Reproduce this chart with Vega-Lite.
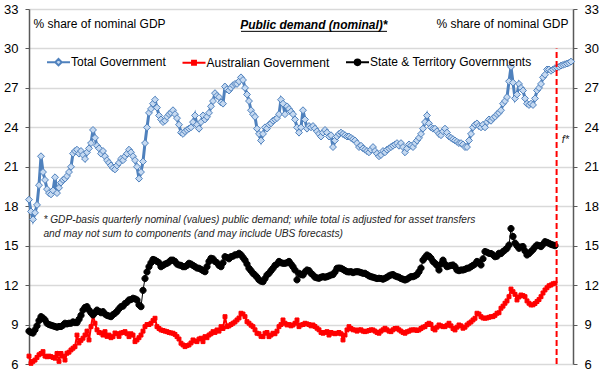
{
"$schema": "https://vega.github.io/schema/vega-lite/v6.json",
"width": 544, "height": 355,
"autosize": {"type": "none"},
"padding": {"left": 29, "top": 9, "right": 29, "bottom": 27},
"background": "white",
"config": {"view": {"stroke": null}, "font": "Liberation Sans"},
"data": {"values": [
{"d":1960,"t":18.5,"a":6.6,"s":8.5},{"d":1960.25,"t":17.6,"a":6.05,"s":8.4},{"d":1960.5,"t":17.0,"a":6.2,"s":8.35},{"d":1960.75,"t":17.5,"a":6.3,"s":8.6},
{"d":1961,"t":18.1,"a":6.5,"s":8.9},{"d":1961.25,"t":19.6,"a":6.7,"s":9.3},{"d":1961.5,"t":21.8,"a":6.8,"s":9.6},{"d":1961.75,"t":20.6,"a":6.94,"s":9.5},
{"d":1962,"t":20.0,"a":6.6,"s":9.35},{"d":1962.25,"t":19.3,"a":6.55,"s":9.1},{"d":1962.5,"t":19.0,"a":6.6,"s":9.0},{"d":1962.75,"t":18.9,"a":6.56,"s":8.95},
{"d":1963,"t":19.2,"a":6.5,"s":8.9},{"d":1963.25,"t":20.2,"a":6.44,"s":8.85},{"d":1963.5,"t":19.0,"a":6.8,"s":8.8},{"d":1963.75,"t":19.4,"a":6.2,"s":8.85},
{"d":1964,"t":19.8,"a":6.8,"s":8.85},{"d":1964.25,"t":20.0,"a":6.6,"s":8.95},{"d":1964.5,"t":20.1,"a":6.3,"s":9.1},{"d":1964.75,"t":20.3,"a":6.82,"s":9.05},
{"d":1965,"t":20.6,"a":6.9,"s":9.1},{"d":1965.25,"t":21.0,"a":7.07,"s":9.1},{"d":1965.5,"t":22.0,"a":7.2,"s":9.2},{"d":1965.75,"t":22.2,"a":7.32,"s":9.15},
{"d":1966,"t":22.3,"a":8.2,"s":9.15},{"d":1966.25,"t":22.0,"a":7.6,"s":9.4},{"d":1966.5,"t":22.2,"a":7.8,"s":9.7},{"d":1966.75,"t":21.9,"a":7.96,"s":10.1},
{"d":1967,"t":21.6,"a":8.2,"s":10.3},{"d":1967.25,"t":22.1,"a":8.5,"s":10.36},{"d":1967.5,"t":22.4,"a":7.83,"s":10.1},{"d":1967.75,"t":22.8,"a":8.84,"s":9.9},
{"d":1968,"t":23.8,"a":9.7,"s":9.73},{"d":1968.25,"t":23.2,"a":9.1,"s":9.9},{"d":1968.5,"t":22.6,"a":8.6,"s":10.1},{"d":1968.75,"t":22.4,"a":8.4,"s":10.0},
{"d":1969,"t":22.0,"a":8.36,"s":9.9},{"d":1969.25,"t":22.2,"a":8.2,"s":9.98},{"d":1969.5,"t":21.8,"a":8.46,"s":9.8},{"d":1969.75,"t":21.5,"a":8.1,"s":9.7},
{"d":1970,"t":21.3,"a":8.2,"s":9.65},{"d":1970.25,"t":21.1,"a":8.0,"s":9.6},{"d":1970.5,"t":20.9,"a":8.08,"s":9.75},{"d":1970.75,"t":20.8,"a":8.36,"s":9.86},
{"d":1971,"t":21.1,"a":8.3,"s":10.0},{"d":1971.25,"t":21.3,"a":8.1,"s":10.2},{"d":1971.5,"t":21.6,"a":8.36,"s":10.36},{"d":1971.75,"t":21.5,"a":8.4,"s":10.4},
{"d":1972,"t":21.8,"a":8.46,"s":10.6},{"d":1972.25,"t":22.0,"a":8.3,"s":10.7},{"d":1972.5,"t":22.3,"a":8.08,"s":10.87},{"d":1972.75,"t":22.1,"a":8.3,"s":10.9},
{"d":1973,"t":21.8,"a":8.2,"s":11.0},{"d":1973.25,"t":21.5,"a":7.7,"s":10.95},{"d":1973.5,"t":21.0,"a":7.83,"s":10.87},{"d":1973.75,"t":20.1,"a":8.0,"s":10.5},
{"d":1974,"t":20.6,"a":8.2,"s":10.36},{"d":1974.25,"t":21.4,"a":8.5,"s":11.6},{"d":1974.5,"t":22.8,"a":8.84,"s":12.5},{"d":1974.75,"t":24.0,"a":9.0,"s":13.0},
{"d":1975,"t":25.1,"a":9.0,"s":13.4},{"d":1975.25,"t":25.4,"a":9.1,"s":13.7},{"d":1975.5,"t":25.8,"a":9.3,"s":13.95},{"d":1975.75,"t":26.1,"a":9.48,"s":13.9},
{"d":1976,"t":25.5,"a":8.84,"s":13.8},{"d":1976.25,"t":24.9,"a":8.7,"s":13.7},{"d":1976.5,"t":24.6,"a":8.59,"s":13.4},{"d":1976.75,"t":24.4,"a":8.55,"s":13.5},
{"d":1977,"t":24.5,"a":8.5,"s":13.6},{"d":1977.25,"t":24.8,"a":8.46,"s":13.66},{"d":1977.5,"t":25.0,"a":8.4,"s":13.75},{"d":1977.75,"t":25.1,"a":8.36,"s":13.9},
{"d":1978,"t":25.3,"a":8.34,"s":13.9},{"d":1978.25,"t":25.0,"a":8.25,"s":13.8},{"d":1978.5,"t":24.7,"a":8.08,"s":13.6},{"d":1978.75,"t":24.2,"a":7.9,"s":13.53},
{"d":1979,"t":23.6,"a":7.58,"s":13.5},{"d":1979.25,"t":23.5,"a":7.45,"s":13.4},{"d":1979.5,"t":23.7,"a":7.32,"s":13.4},{"d":1979.75,"t":23.8,"a":7.4,"s":13.5},
{"d":1980,"t":23.9,"a":7.45,"s":13.66},{"d":1980.25,"t":24.0,"a":7.6,"s":13.6},{"d":1980.5,"t":24.4,"a":7.83,"s":13.5},{"d":1980.75,"t":24.9,"a":7.75,"s":13.4},
{"d":1981,"t":24.2,"a":7.7,"s":13.3},{"d":1981.25,"t":23.9,"a":7.9,"s":13.28},{"d":1981.5,"t":24.4,"a":7.96,"s":13.2},{"d":1981.75,"t":24.9,"a":7.7,"s":13.1},
{"d":1982,"t":24.6,"a":8.08,"s":13.02},{"d":1982.25,"t":24.8,"a":8.0,"s":13.4},{"d":1982.5,"t":25.1,"a":8.2,"s":13.8},{"d":1982.75,"t":25.6,"a":8.3,"s":14.04},
{"d":1983,"t":26.0,"a":8.46,"s":14.0},{"d":1983.25,"t":26.6,"a":8.4,"s":13.8},{"d":1983.5,"t":26.4,"a":8.59,"s":13.7},{"d":1983.75,"t":26.3,"a":8.5,"s":13.5},
{"d":1984,"t":25.9,"a":8.84,"s":13.4},{"d":1984.25,"t":25.8,"a":8.7,"s":13.7},{"d":1984.5,"t":27.1,"a":9.6,"s":14.16},{"d":1984.75,"t":26.9,"a":8.84,"s":14.1},
{"d":1985,"t":26.8,"a":8.9,"s":14.0},{"d":1985.25,"t":27.0,"a":9.0,"s":14.16},{"d":1985.5,"t":27.2,"a":9.1,"s":14.2},{"d":1985.75,"t":27.3,"a":9.2,"s":14.3},
{"d":1986,"t":27.3,"a":9.35,"s":14.3},{"d":1986.25,"t":27.5,"a":9.5,"s":14.42},{"d":1986.5,"t":27.8,"a":9.86,"s":14.3},{"d":1986.75,"t":27.6,"a":9.8,"s":14.1},
{"d":1987,"t":27.0,"a":9.6,"s":13.9},{"d":1987.25,"t":26.5,"a":9.22,"s":13.6},{"d":1987.5,"t":26.0,"a":9.1,"s":13.28},{"d":1987.75,"t":25.3,"a":8.95,"s":13.1},
{"d":1988,"t":25.0,"a":8.84,"s":12.9},{"d":1988.25,"t":24.8,"a":8.6,"s":12.77},{"d":1988.5,"t":23.9,"a":8.34,"s":12.6},{"d":1988.75,"t":23.5,"a":8.3,"s":12.4},
{"d":1989,"t":23.0,"a":8.1,"s":12.3},{"d":1989.25,"t":23.5,"a":8.08,"s":12.26},{"d":1989.5,"t":24.0,"a":8.34,"s":12.5},{"d":1989.75,"t":23.9,"a":8.4,"s":12.77},
{"d":1990,"t":24.2,"a":8.08,"s":12.9},{"d":1990.25,"t":24.3,"a":8.2,"s":13.1},{"d":1990.5,"t":24.5,"a":8.34,"s":13.28},{"d":1990.75,"t":24.6,"a":8.3,"s":13.5},
{"d":1991,"t":24.7,"a":8.5,"s":13.6},{"d":1991.25,"t":25.0,"a":8.84,"s":13.8},{"d":1991.5,"t":26.1,"a":9.0,"s":13.7},{"d":1991.75,"t":25.8,"a":9.35,"s":13.66},
{"d":1992,"t":25.0,"a":9.1,"s":13.66},{"d":1992.25,"t":25.6,"a":8.97,"s":13.7},{"d":1992.5,"t":25.4,"a":9.0,"s":13.8},{"d":1992.75,"t":25.2,"a":8.9,"s":13.6},
{"d":1993,"t":25.0,"a":8.97,"s":13.4},{"d":1993.25,"t":24.6,"a":9.1,"s":13.15},{"d":1993.5,"t":24.0,"a":9.35,"s":12.4},{"d":1993.75,"t":23.6,"a":8.84,"s":12.9},
{"d":1994,"t":24.0,"a":8.97,"s":12.8},{"d":1994.25,"t":25.3,"a":9.0,"s":12.77},{"d":1994.5,"t":24.6,"a":9.1,"s":13.0},{"d":1994.75,"t":23.9,"a":9.05,"s":13.15},
{"d":1995,"t":24.1,"a":9.0,"s":13.1},{"d":1995.25,"t":24.0,"a":8.9,"s":12.9},{"d":1995.5,"t":24.1,"a":8.97,"s":12.77},{"d":1995.75,"t":23.9,"a":8.85,"s":12.6},
{"d":1996,"t":23.7,"a":8.72,"s":12.55},{"d":1996.25,"t":23.5,"a":8.6,"s":12.52},{"d":1996.5,"t":23.3,"a":8.4,"s":12.6},{"d":1996.75,"t":23.6,"a":8.34,"s":12.64},
{"d":1997,"t":23.8,"a":8.4,"s":12.6},{"d":1997.25,"t":23.6,"a":8.46,"s":12.64},{"d":1997.5,"t":23.3,"a":8.2,"s":12.7},{"d":1997.75,"t":23.4,"a":8.4,"s":12.77},
{"d":1998,"t":22.5,"a":8.34,"s":12.8},{"d":1998.25,"t":23.0,"a":8.3,"s":13.0},{"d":1998.5,"t":23.3,"a":8.34,"s":13.28},{"d":1998.75,"t":23.5,"a":8.4,"s":13.3},
{"d":1999,"t":23.6,"a":8.3,"s":13.28},{"d":1999.25,"t":23.5,"a":7.83,"s":13.2},{"d":1999.5,"t":23.4,"a":8.2,"s":13.1},{"d":1999.75,"t":23.3,"a":8.59,"s":13.02},
{"d":2000,"t":23.3,"a":8.84,"s":13.0},{"d":2000.25,"t":23.2,"a":8.7,"s":13.02},{"d":2000.5,"t":23.1,"a":8.6,"s":12.95},{"d":2000.75,"t":23.0,"a":8.59,"s":13.0},
{"d":2001,"t":22.8,"a":8.5,"s":13.02},{"d":2001.25,"t":22.5,"a":8.59,"s":13.0},{"d":2001.5,"t":22.6,"a":8.6,"s":12.95},{"d":2001.75,"t":22.4,"a":8.5,"s":12.9},
{"d":2002,"t":22.3,"a":8.46,"s":12.9},{"d":2002.25,"t":22.2,"a":8.5,"s":12.8},{"d":2002.5,"t":22.1,"a":8.55,"s":12.7},{"d":2002.75,"t":22.3,"a":8.6,"s":12.64},
{"d":2003,"t":22.5,"a":8.59,"s":12.6},{"d":2003.25,"t":22.2,"a":8.5,"s":12.55},{"d":2003.5,"t":22.0,"a":8.4,"s":12.5},{"d":2003.75,"t":21.8,"a":8.34,"s":12.52},
{"d":2004,"t":21.9,"a":8.5,"s":12.5},{"d":2004.25,"t":22.2,"a":8.6,"s":12.45},{"d":2004.5,"t":22.1,"a":8.72,"s":12.52},{"d":2004.75,"t":22.3,"a":8.6,"s":12.6},
{"d":2005,"t":22.4,"a":8.5,"s":12.7},{"d":2005.25,"t":22.5,"a":8.46,"s":12.77},{"d":2005.5,"t":22.6,"a":8.6,"s":12.8},{"d":2005.75,"t":22.7,"a":8.7,"s":12.7},
{"d":2006,"t":22.8,"a":8.72,"s":12.64},{"d":2006.25,"t":22.6,"a":8.6,"s":12.6},{"d":2006.5,"t":22.8,"a":8.5,"s":12.5},{"d":2006.75,"t":22.5,"a":8.4,"s":12.45},
{"d":2007,"t":22.1,"a":8.34,"s":12.39},{"d":2007.25,"t":22.4,"a":8.45,"s":12.45},{"d":2007.5,"t":22.7,"a":8.5,"s":12.55},{"d":2007.75,"t":22.6,"a":8.59,"s":12.64},
{"d":2008,"t":22.5,"a":8.59,"s":12.64},{"d":2008.25,"t":22.8,"a":8.6,"s":12.7},{"d":2008.5,"t":23.0,"a":8.55,"s":12.8},{"d":2008.75,"t":23.2,"a":8.59,"s":13.02},
{"d":2009,"t":23.5,"a":8.7,"s":13.3},{"d":2009.25,"t":23.9,"a":8.8,"s":13.9},{"d":2009.5,"t":24.4,"a":8.84,"s":14.1},{"d":2009.75,"t":24.9,"a":9.0,"s":14.29},
{"d":2010,"t":24.3,"a":9.1,"s":14.2},{"d":2010.25,"t":24.0,"a":9.0,"s":14.04},{"d":2010.5,"t":23.9,"a":8.7,"s":13.8},{"d":2010.75,"t":23.9,"a":8.59,"s":13.66},
{"d":2011,"t":23.7,"a":8.8,"s":13.5},{"d":2011.25,"t":23.5,"a":8.97,"s":13.15},{"d":2011.5,"t":23.4,"a":8.9,"s":13.6},{"d":2011.75,"t":23.7,"a":8.84,"s":13.9},
{"d":2012,"t":23.9,"a":8.84,"s":13.6},{"d":2012.25,"t":23.6,"a":8.95,"s":13.4},{"d":2012.5,"t":23.3,"a":9.1,"s":13.45},{"d":2012.75,"t":23.2,"a":8.9,"s":13.5},
{"d":2013,"t":23.1,"a":8.7,"s":13.53},{"d":2013.25,"t":23.0,"a":8.59,"s":13.4},{"d":2013.5,"t":22.9,"a":8.8,"s":13.15},{"d":2013.75,"t":22.8,"a":8.97,"s":13.1},
{"d":2014,"t":22.8,"a":8.9,"s":13.15},{"d":2014.25,"t":22.7,"a":8.72,"s":13.15},{"d":2014.5,"t":22.5,"a":8.8,"s":13.2},{"d":2014.75,"t":22.5,"a":8.97,"s":13.28},
{"d":2015,"t":23.0,"a":9.1,"s":13.3},{"d":2015.25,"t":23.5,"a":9.2,"s":13.4},{"d":2015.5,"t":24.0,"a":9.35,"s":13.5},{"d":2015.75,"t":24.2,"a":9.48,"s":13.6},
{"d":2016,"t":24.3,"a":9.86,"s":13.8},{"d":2016.25,"t":24.1,"a":9.8,"s":13.7},{"d":2016.5,"t":24.0,"a":9.6,"s":13.53},{"d":2016.75,"t":24.2,"a":9.5,"s":14.0},
{"d":2017,"t":24.0,"a":9.48,"s":14.55},{"d":2017.25,"t":24.4,"a":9.5,"s":14.5},{"d":2017.5,"t":24.6,"a":9.55,"s":14.42},{"d":2017.75,"t":24.5,"a":9.6,"s":14.4},
{"d":2018,"t":24.7,"a":9.6,"s":14.3},{"d":2018.25,"t":24.8,"a":9.7,"s":14.16},{"d":2018.5,"t":25.0,"a":9.86,"s":14.2},{"d":2018.75,"t":25.1,"a":9.9,"s":14.42},
{"d":2019,"t":25.3,"a":10.24,"s":14.4},{"d":2019.25,"t":25.8,"a":10.4,"s":14.55},{"d":2019.5,"t":26.0,"a":10.62,"s":14.67},{"d":2019.75,"t":26.3,"a":10.8,"s":14.8},
{"d":2020,"t":27.5,"a":11.12,"s":15.05},{"d":2020.25,"t":28.6,"a":11.7,"s":16.3},{"d":2020.5,"t":27.4,"a":11.5,"s":15.7},{"d":2020.75,"t":26.2,"a":11.3,"s":15.2},
{"d":2021,"t":26.5,"a":10.87,"s":15.0},{"d":2021.25,"t":27.3,"a":11.1,"s":14.8},{"d":2021.5,"t":27.0,"a":11.25,"s":14.9},{"d":2021.75,"t":26.8,"a":11.2,"s":14.93},
{"d":2022,"t":26.2,"a":11.12,"s":14.6},{"d":2022.25,"t":25.8,"a":10.8,"s":14.29},{"d":2022.5,"t":25.7,"a":10.62,"s":14.4},{"d":2022.75,"t":25.8,"a":10.49,"s":14.55},
{"d":2023,"t":25.7,"a":10.5,"s":14.7},{"d":2023.25,"t":26.2,"a":10.6,"s":14.9},{"d":2023.5,"t":26.8,"a":10.75,"s":15.05},{"d":2023.75,"t":27.0,"a":10.9,"s":15.0},
{"d":2024,"t":27.3,"a":11.12,"s":14.93},{"d":2024.25,"t":27.8,"a":11.4,"s":15.1},{"d":2024.5,"t":28.0,"a":11.63,"s":15.3},{"d":2024.75,"t":28.4,"a":11.8,"s":15.25},
{"d":2025,"t":28.4,"a":11.95,"s":15.18},{"d":2025.25,"t":28.3,"a":12.01,"s":15.1},{"d":2025.5,"t":28.4,"a":12.1,"s":15.05},{"d":2025.75,"t":28.5,"a":12.14,"s":15.0},
{"d":2026,"t":28.55},{"d":2026.25,"t":28.6},{"d":2026.5,"t":28.7},{"d":2026.75,"t":28.75},
{"d":2027,"t":28.8},{"d":2027.25,"t":28.85},{"d":2027.5,"t":28.9},{"d":2027.75,"t":29.0}
]},
"layer": [
{
"transform": [{"fold": ["t", "a", "s"], "as": ["series", "value"]}, {"filter": "isValid(datum.value)"}],
"mark": {"type": "line", "interpolate": "linear"},
"encoding": {
"x": {"field": "d", "type": "quantitative", "scale": {"domain": [1960, 2028], "nice": false, "zero": false},
"axis": {"values": [1960,1961,1962,1963,1964,1965,1966,1967,1968,1969,1970,1971,1972,1973,1974,1975,1976,1977,1978,1979,1980,1981,1982,1983,1984,1985,1986,1987,1988,1989,1990,1991,1992,1993,1994,1995,1996,1997,1998,1999,2000,2001,2002,2003,2004,2005,2006,2007,2008,2009,2010,2011,2012,2013,2014,2015,2016,2017,2018,2019,2020,2021,2022,2023,2024,2025,2026,2027],
"labelExpr": "datum.value % 10 === 0 ? slice('0' + (datum.value % 100), -2) : ''",
"grid": false, "domainColor": "#595959", "domainWidth": 1.5, "tickColor": "#595959", "tickWidth": 1, "tickSize": 4,
"labelFontSize": 13, "labelColor": "#000000", "labelPadding": 5, "labelFlush": false, "labelOverlap": false, "title": null}},
"y": {"field": "value", "type": "quantitative", "scale": {"domain": [6, 33], "nice": false, "zero": false},
"axis": {"orient": "left", "values": [6,9,12,15,18,21,24,27,30,33], "grid": true, "gridColor": "#d9d9d9", "gridWidth": 1.5,
"domainColor": "#595959", "domainWidth": 1.5, "tickColor": "#595959", "tickSize": 4, "labelFontSize": 13, "labelColor": "#000000", "labelPadding": 7,
"title": "% share of nominal GDP", "titleAngle": 0, "titleAlign": "left", "titleBaseline": "middle", "titleX": 4, "titleY": 14,
"titleFontSize": 12, "titleFontWeight": "normal", "titleColor": "#000000"}},
"color": {"field": "series", "type": "nominal", "scale": {"domain": ["t", "a", "s"], "range": ["#4f81bd", "#ff0000", "#000000"]}, "legend": null},
"strokeWidth": {"field": "series", "type": "nominal", "scale": {"domain": ["t", "a", "s"], "range": [3, 1, 2.5]}, "legend": null}
}
},
{
"transform": [{"fold": ["t", "a", "s"], "as": ["series", "value"]}, {"filter": "isValid(datum.value)"}],
"mark": {"type": "point", "filled": true, "opacity": 1, "strokeWidth": 1, "size": 529},
"encoding": {
"x": {"field": "d", "type": "quantitative", "axis": null},
"y": {"field": "value", "type": "quantitative",
"axis": {"orient": "right", "values": [6,9,12,15,18,21,24,27,30,33], "grid": false,
"domainColor": "#595959", "domainWidth": 1.5, "tickColor": "#595959", "tickSize": 4, "labelFontSize": 13, "labelColor": "#000000", "labelPadding": 7,
"title": "% share of nominal GDP", "titleAngle": 0, "titleAlign": "right", "titleBaseline": "middle", "titleX": -5, "titleY": 14,
"titleFontSize": 12, "titleFontWeight": "normal", "titleColor": "#000000"}},
"fill": {"field": "series", "type": "nominal", "scale": {"domain": ["t", "a", "s"], "range": ["#c5d9f1", "#ff0000", "#000000"]}, "legend": null},
"stroke": {"field": "series", "type": "nominal", "scale": {"domain": ["t", "a", "s"], "range": ["#4f81bd", "#ff0000", "#000000"]}, "legend": null},
"shape": {"field": "series", "type": "nominal", "scale": {"domain": ["t", "a", "s"], "range": ["M-0.3,0L0,-0.3L0.3,0L0,0.3Z", "M-0.17,-0.17H0.17V0.17H-0.17Z", "M0.27,0A0.27,0.27,0,1,1,-0.27,0A0.27,0.27,0,1,1,0.27,0Z"]}, "legend": null}
}
},
{
"transform": [{"fold": ["t", "a", "s"], "as": ["series", "value"]}, {"filter": "false"}],
"mark": {"type": "point", "filled": true, "opacity": 1},
"encoding": {
"x": {"field": "d", "type": "quantitative", "axis": null},
"y": {"field": "value", "type": "quantitative", "axis": null},
"fill": {"field": "series", "type": "nominal", "scale": {"domain": ["t", "a", "s"], "range": ["#c5d9f1", "#ff0000", "#000000"]},
"legend": {"title": null, "orient": "none", "direction": "horizontal", "legendX": 17, "legendY": 40.5, "padding": 0,
"labelExpr": "datum.value === 't' ? 'Total Government' : datum.value === 'a' ? 'Australian Government' : 'State & Territory Governments'",
"labelFontSize": 12, "labelColor": "#000000", "labelOffset": 0, "labelLimit": 400, "columnPadding": 12.5, "symbolSize": 529, "symbolStrokeWidth": 2, "symbolOpacity": 1}},
"stroke": {"field": "series", "type": "nominal", "scale": {"domain": ["t", "a", "s"], "range": ["#4f81bd", "#ff0000", "#000000"]}, "legend": {"title": null}},
"shape": {"field": "series", "type": "nominal", "scale": {"domain": ["t", "a", "s"], "range": ["M-1,0H-0.28M0.28,0H1M-0.28,0L0,-0.28L0.28,0L0,0.28Z", "M-1,0H-0.17M0.17,0H1M-0.17,-0.17H0.17V0.17H-0.17Z", "M-1,0H-0.24M0.24,0H1M0.24,0A0.24,0.24,0,1,1,-0.24,0A0.24,0.24,0,1,1,0.24,0Z"]}, "legend": {"title": null}}
}
},
{
"data": {"values": [{}]},
"mark": {"type": "rule", "color": "#ff0000", "strokeWidth": 2, "strokeDash": [6, 3]},
"encoding": {"x": {"datum": 2025.95, "axis": null}, "y": {"datum": 6, "axis": null}, "y2": {"datum": 30}}
},
{
"data": {"values": [{}]},
"mark": {"type": "text", "align": "center", "baseline": "middle", "fontSize": 12, "fontWeight": "bold", "fontStyle": "italic", "color": "#000000"},
"encoding": {"x": {"datum": 1995.6, "axis": null}, "y": {"datum": 31.75, "axis": null}, "text": {"value": "Public demand (nominal)*"}}
},
{
"data": {"values": [{}]},
"mark": {"type": "rule", "color": "#000000", "strokeWidth": 1},
"encoding": {"x": {"datum": 1986.5, "axis": null}, "x2": {"datum": 2004.75}, "y": {"datum": 31.3, "axis": null}}
},
{
"data": {"values": [{}]},
"mark": {"type": "text", "align": "left", "baseline": "middle", "fontSize": 10.2, "fontStyle": "italic", "color": "#262626"},
"encoding": {"x": {"datum": 1961.8, "axis": null}, "y": {"datum": 16.95, "axis": null}, "text": {"value": "* GDP-basis quarterly nominal (values) public demand; while total is adjusted for asset transfers"}}
},
{
"data": {"values": [{}]},
"mark": {"type": "text", "align": "left", "baseline": "middle", "fontSize": 10.2, "fontStyle": "italic", "color": "#262626"},
"encoding": {"x": {"datum": 1961.8, "axis": null}, "y": {"datum": 15.9, "axis": null}, "text": {"value": "and may not sum to components (and may include UBS forecasts)"}}
},
{
"data": {"values": [{}]},
"mark": {"type": "text", "align": "left", "baseline": "middle", "fontSize": 11, "fontStyle": "italic", "color": "#262626"},
"encoding": {"x": {"datum": 2026.6, "axis": null}, "y": {"datum": 23.05, "axis": null}, "text": {"value": "f*"}}
}
],
"resolve": {"axis": {"y": "independent"}, "scale": {"shape": "independent", "fill": "independent", "stroke": "independent"}}
}
